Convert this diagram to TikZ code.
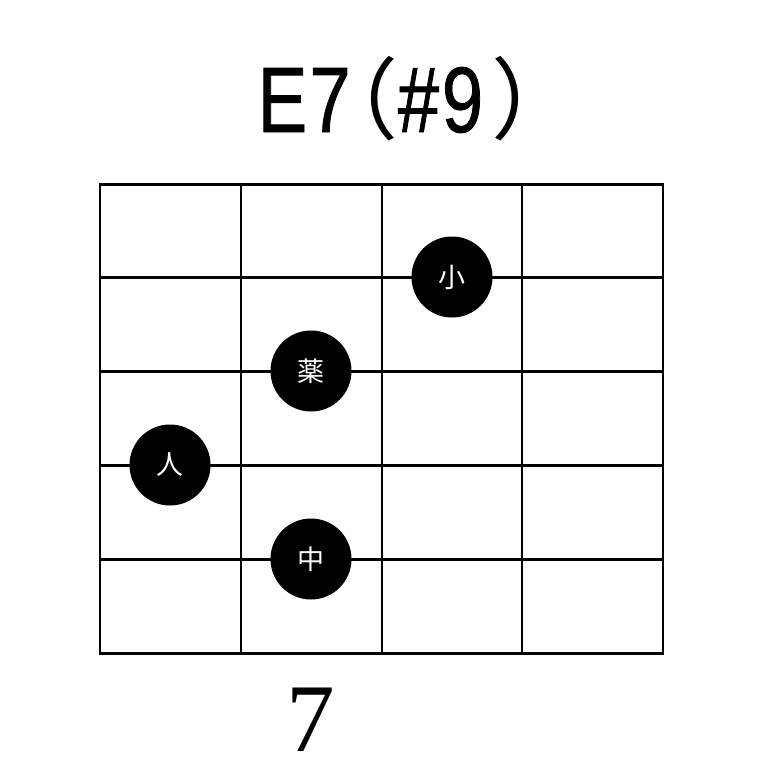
\documentclass[tikz,border=0pt]{standalone}
\usepackage{fontspec}
\setmainfont{Liberation Serif}
\newfontfamily\cjk{Noto Sans CJK JP}
\newfontfamily\titlesans[FakeBold=1]{Liberation Sans}
\begin{document}
\begin{tikzpicture}[x=1pt,y=-1pt,
  hline/.style={line width=3pt},
  vline/.style={line width=2pt},
  dot/.style={circle,fill=black,minimum size=81pt,inner sep=0pt,text=white,font=\cjk\fontsize{27}{27}\selectfont},
  tglyph/.style={anchor=base,inner sep=0pt,xscale=0.8,font=\titlesans\fontsize{93}{93}\selectfont},
  tparen/.style={anchor=center,inner sep=0pt,font=\cjk\fontsize{89}{89}\selectfont},
]
\useasboundingbox[fill=white] (0,0) rectangle (777,784);
\foreach \i in {0,...,5} {
  \pgfmathsetmacro\yy{184+93.8*\i}
  \draw[hline] (99,\yy) -- (664,\yy);
}
\foreach \j in {0,...,4} {
  \pgfmathsetmacro\xx{100+140.75*\j}
  \draw[vline] (\xx,183) -- (\xx,654);
}
\node[tglyph] (tE) at (282.5,132) {E};
\node[tglyph] (t7) at (330,132) {7};
\node[tparen] (tl) at (385.5,99) {\makebox[25pt][r]{（}};
\node[tglyph] (th) at (418.5,132) {\#};
\node[tglyph] (t9) at (462.5,132) {9};
\node[tparen] (tr) at (504,99) {\makebox[25pt][l]{）}};
\node[dot] (d1) at (452,277) {小};
\node[dot] (d2) at (311,371) {薬};
\node[dot] (d3) at (170,465) {人};
\node[dot] (d4) at (311,559) {中};
\node (fret) at (311,720) {\fontsize{97}{97}\selectfont 7};
\end{tikzpicture}
\end{document}
